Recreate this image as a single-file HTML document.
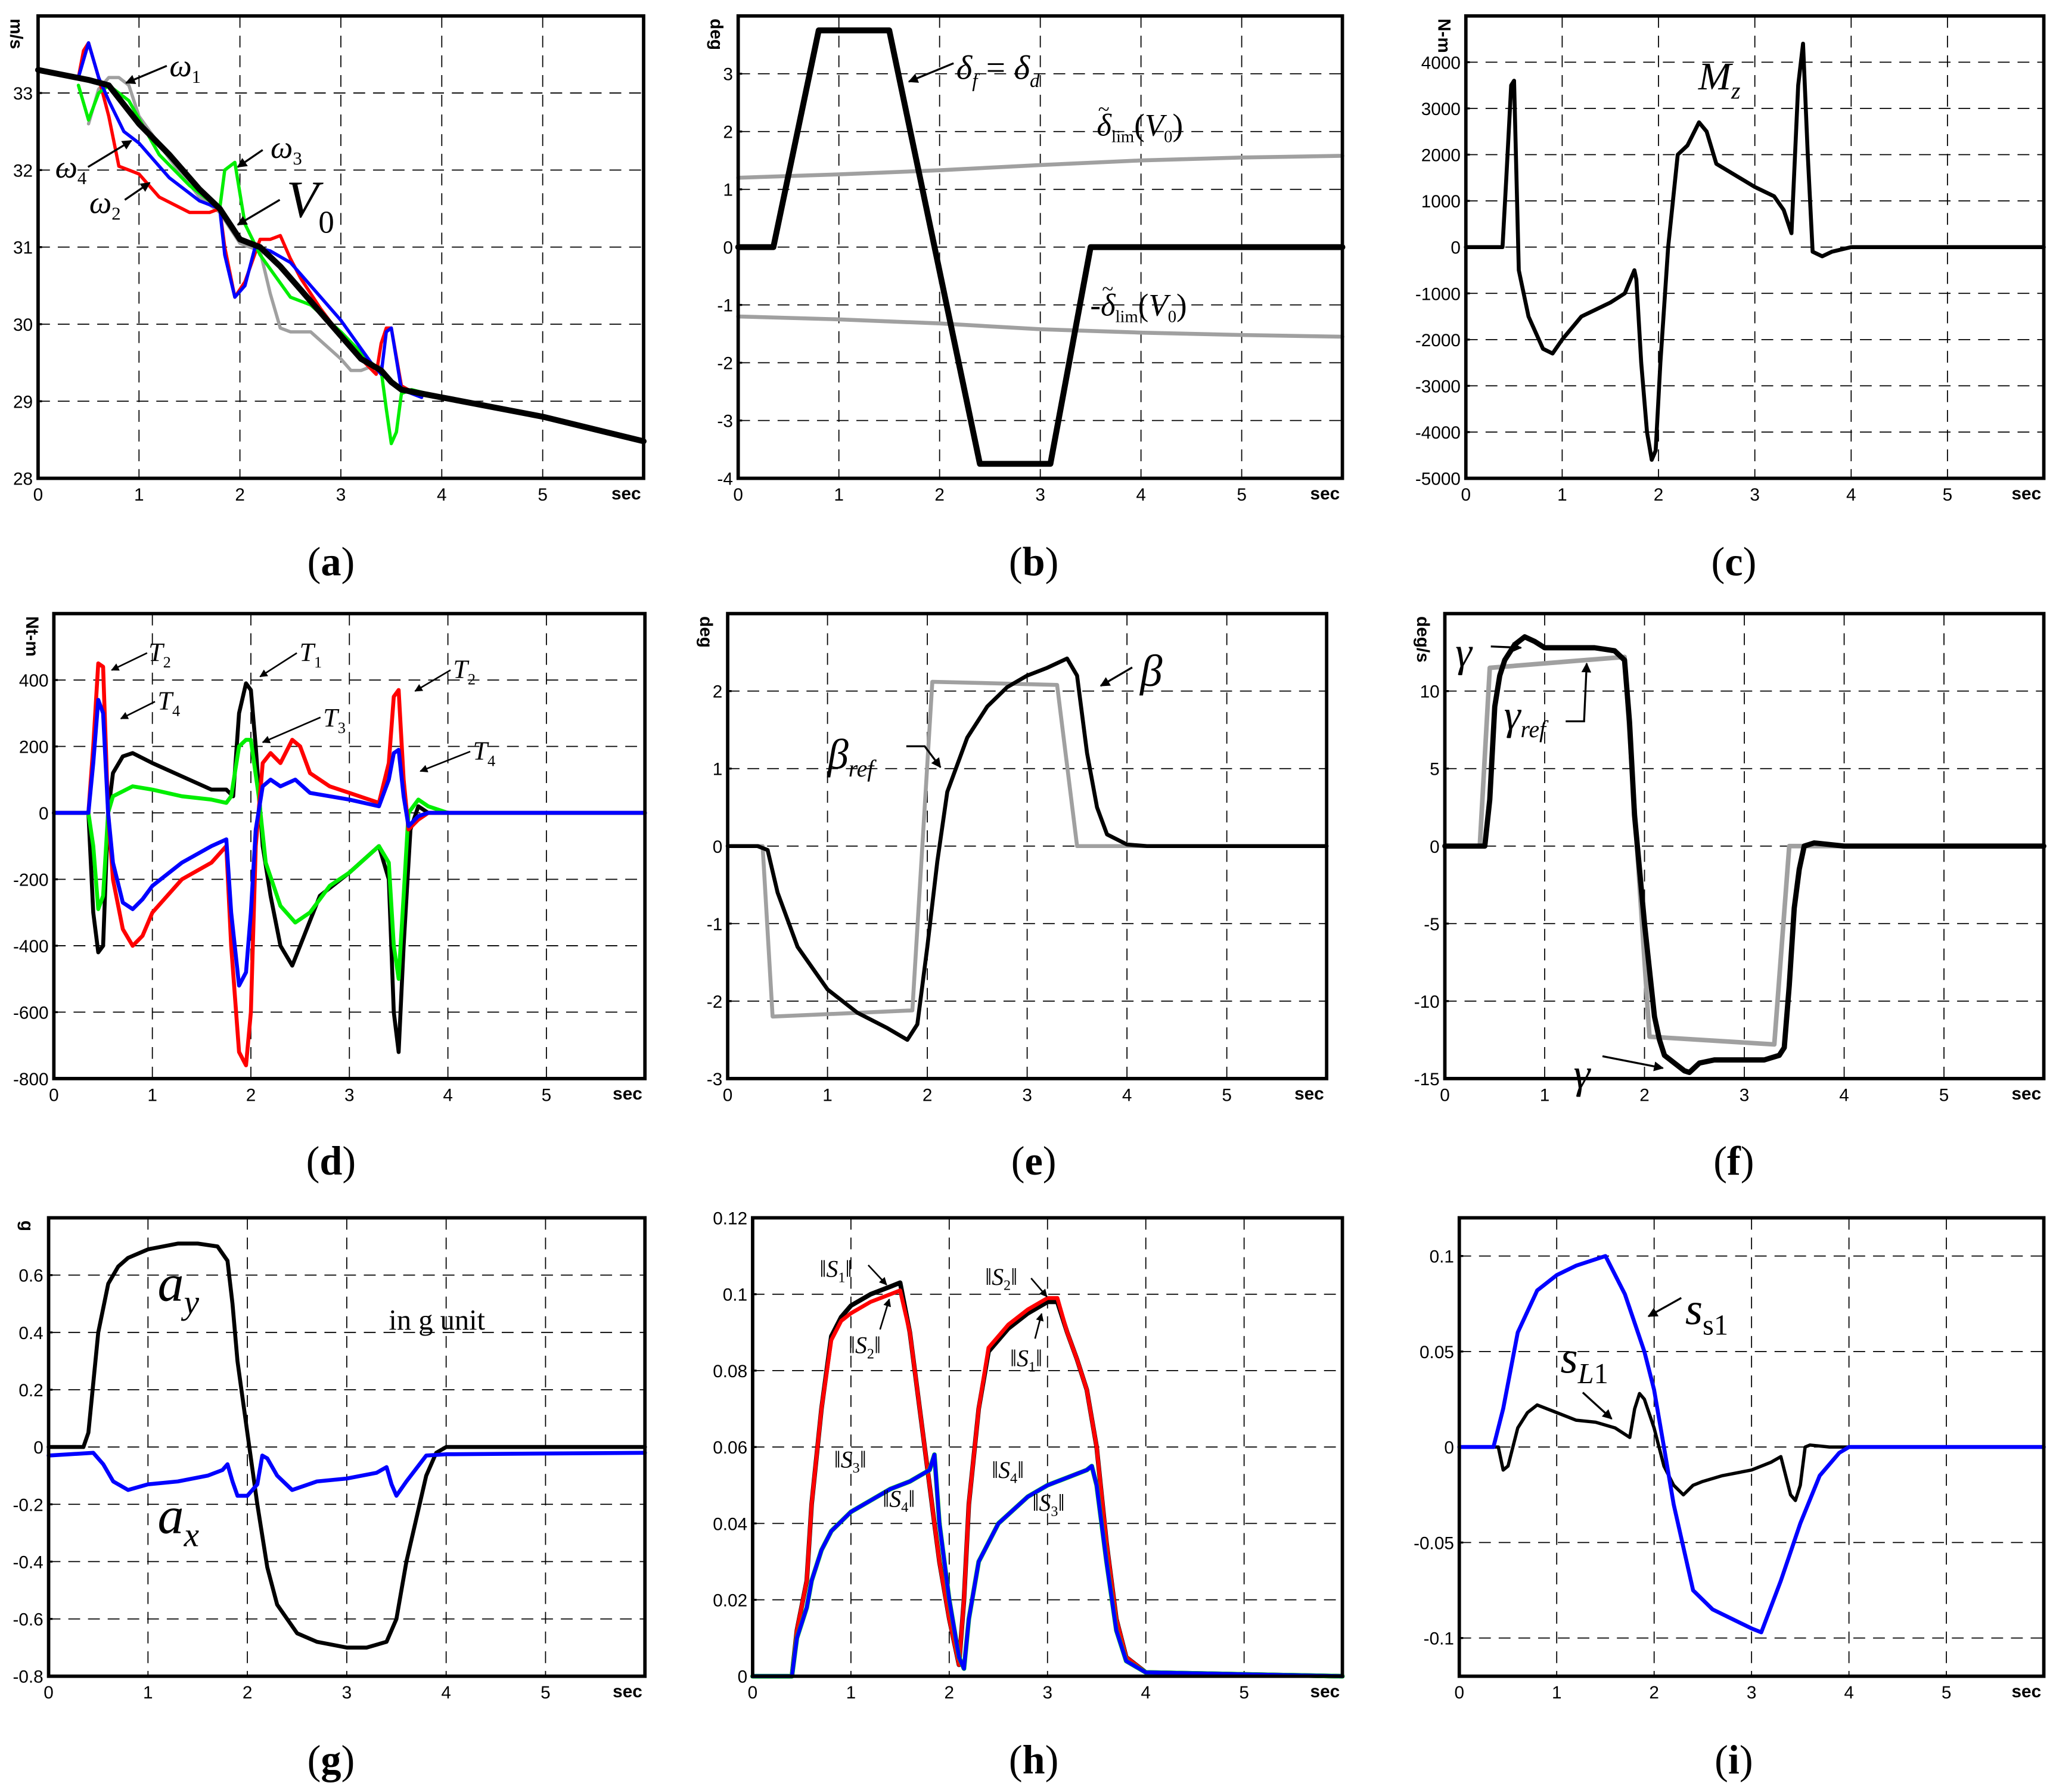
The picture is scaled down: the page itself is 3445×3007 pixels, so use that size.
<!DOCTYPE html>
<html><head><meta charset="utf-8"><style>
html,body{margin:0;padding:0;background:#fff;}
svg{display:block;}
.tk{font-family:"Liberation Sans",sans-serif;font-size:13.5px;fill:#000;}
.lab{font-family:"Liberation Serif",serif;font-style:italic;fill:#000;}
.pl{font-family:"Liberation Serif",serif;font-size:31px;fill:#000;}
</style></head><body>
<svg id="fig" width="3445" height="3007" viewBox="0 0 1563 1364" xmlns="http://www.w3.org/2000/svg">
<defs><marker id="ar" viewBox="0 0 10 10" refX="9" refY="5" markerWidth="5" markerHeight="5" orient="auto"><path d="M0,0 L10,5 L0,10 z" fill="#000"/></marker></defs>
<g id="plots"></g>
<g id="ann">
<!-- panel a -->
<text class="lab" x="129" y="58" font-size="24">ω<tspan font-size="14" dy="5" font-style="normal">1</tspan></text>
<line x1="127" y1="50" x2="96" y2="63" stroke="#000" stroke-width="1.5" marker-end="url(#ar)"/>
<text class="lab" x="206" y="120" font-size="24">ω<tspan font-size="14" dy="5" font-style="normal">3</tspan></text>
<line x1="200" y1="114" x2="181" y2="127" stroke="#000" stroke-width="1.5" marker-end="url(#ar)"/>
<text class="lab" x="42" y="135" font-size="24">ω<tspan font-size="14" dy="5" font-style="normal">4</tspan></text>
<line x1="67" y1="127" x2="100" y2="107" stroke="#000" stroke-width="1.5" marker-end="url(#ar)"/>
<text class="lab" x="68" y="162" font-size="24">ω<tspan font-size="14" dy="5" font-style="normal">2</tspan></text>
<line x1="95" y1="152" x2="114" y2="139" stroke="#000" stroke-width="1.5" marker-end="url(#ar)"/>
<text class="lab" x="218" y="165" font-size="40">V<tspan font-size="24" dy="12" font-style="normal">0</tspan></text>
<line x1="213" y1="152" x2="181" y2="171" stroke="#000" stroke-width="1.5" marker-end="url(#ar)"/>
<!-- panel b -->
<text class="lab" x="728" y="60" font-size="26">δ<tspan font-size="15" dy="6">f</tspan><tspan dy="-6" font-style="normal"> = </tspan>δ<tspan font-size="15" dy="6">d</tspan></text>
<line x1="726" y1="48" x2="692" y2="62" stroke="#000" stroke-width="1.5" marker-end="url(#ar)"/>
<text class="lab" x="835" y="103" font-size="24">δ<tspan font-size="13" dy="5" font-style="normal">lim</tspan><tspan dy="-5" font-style="normal">(</tspan>V<tspan font-size="13" dy="5" font-style="normal">0</tspan><tspan dy="-5" font-style="normal">)</tspan></text>
<text x="836" y="88" font-family="Liberation Serif,serif" font-size="16">~</text>
<text class="lab" x="830" y="240" font-size="24">-δ<tspan font-size="13" dy="5" font-style="normal">lim</tspan><tspan dy="-5" font-style="normal">(</tspan>V<tspan font-size="13" dy="5" font-style="normal">0</tspan><tspan dy="-5" font-style="normal">)</tspan></text>
<text x="839" y="225" font-family="Liberation Serif,serif" font-size="16">~</text>
<!-- panel c -->
<text class="lab" x="1293" y="68" font-size="30">M<tspan font-size="18" dy="7">z</tspan></text>
<!-- panel d -->
<text class="lab" x="113" y="503" font-size="20">T<tspan font-size="12" dy="5" font-style="normal">2</tspan></text>
<line x1="112" y1="497" x2="85" y2="510" stroke="#000" stroke-width="1.2" marker-end="url(#ar)"/>
<text class="lab" x="120" y="540" font-size="20">T<tspan font-size="12" dy="5" font-style="normal">4</tspan></text>
<line x1="118" y1="534" x2="92" y2="547" stroke="#000" stroke-width="1.2" marker-end="url(#ar)"/>
<text class="lab" x="228" y="503" font-size="20">T<tspan font-size="12" dy="5" font-style="normal">1</tspan></text>
<line x1="226" y1="497" x2="198" y2="515" stroke="#000" stroke-width="1.2" marker-end="url(#ar)"/>
<text class="lab" x="246" y="553" font-size="20">T<tspan font-size="12" dy="5" font-style="normal">3</tspan></text>
<line x1="244" y1="546" x2="200" y2="565" stroke="#000" stroke-width="1.2" marker-end="url(#ar)"/>
<text class="lab" x="345" y="516" font-size="20">T<tspan font-size="12" dy="5" font-style="normal">2</tspan></text>
<line x1="343" y1="510" x2="316" y2="526" stroke="#000" stroke-width="1.2" marker-end="url(#ar)"/>
<text class="lab" x="360" y="578" font-size="20">T<tspan font-size="12" dy="5" font-style="normal">4</tspan></text>
<line x1="358" y1="572" x2="320" y2="587" stroke="#000" stroke-width="1.2" marker-end="url(#ar)"/>
<!-- panel e -->
<text class="lab" x="868" y="522" font-size="34">β</text>
<line x1="862" y1="508" x2="838" y2="522" stroke="#000" stroke-width="1.5" marker-end="url(#ar)"/>
<text class="lab" x="630" y="585" font-size="32">β<tspan font-size="18" dy="6">ref</tspan></text>
<polyline points="690,568 704,568 716,584" fill="none" stroke="#000" stroke-width="1.5" marker-end="url(#ar)"/>
<!-- panel f -->
<text class="lab" x="1108" y="507" font-size="32">γ</text>
<line x1="1135" y1="492" x2="1158" y2="493" stroke="#000" stroke-width="1.5" marker-end="url(#ar)"/>
<text class="lab" x="1145" y="555" font-size="32">γ<tspan font-size="18" dy="6">ref</tspan></text>
<polyline points="1192,549 1206,549 1208,505" fill="none" stroke="#000" stroke-width="1.5" marker-end="url(#ar)"/>
<text class="lab" x="1198" y="828" font-size="32">γ</text>
<line x1="1220" y1="804" x2="1266" y2="813" stroke="#000" stroke-width="1.5" marker-end="url(#ar)"/>
<!-- panel g -->
<text class="lab" x="120" y="990" font-size="40">a<tspan font-size="26" dy="10">y</tspan></text>
<text class="lab" x="120" y="1167" font-size="40">a<tspan font-size="26" dy="10">x</tspan></text>
<text x="296" y="1012" font-family="Liberation Serif,serif" font-size="22">in g unit</text>
<!-- panel h -->
<text class="lab" x="624" y="972" font-size="18">‖S<tspan font-size="11" dy="4" font-style="normal">1</tspan><tspan dy="-4">‖</tspan></text>
<line x1="661" y1="963" x2="675" y2="978" stroke="#000" stroke-width="1.2" marker-end="url(#ar)"/>
<text class="lab" x="646" y="1030" font-size="18">‖S<tspan font-size="11" dy="4" font-style="normal">2</tspan><tspan dy="-4">‖</tspan></text>
<line x1="670" y1="1012" x2="677" y2="989" stroke="#000" stroke-width="1.2" marker-end="url(#ar)"/>
<text class="lab" x="750" y="978" font-size="18">‖S<tspan font-size="11" dy="4" font-style="normal">2</tspan><tspan dy="-4">‖</tspan></text>
<line x1="785" y1="973" x2="797" y2="987" stroke="#000" stroke-width="1.2" marker-end="url(#ar)"/>
<text class="lab" x="769" y="1040" font-size="18">‖S<tspan font-size="11" dy="4" font-style="normal">1</tspan><tspan dy="-4">‖</tspan></text>
<line x1="788" y1="1019" x2="793" y2="1000" stroke="#000" stroke-width="1.2" marker-end="url(#ar)"/>
<text class="lab" x="635" y="1117" font-size="18">‖S<tspan font-size="11" dy="4" font-style="normal">3</tspan><tspan dy="-4">‖</tspan></text>
<text class="lab" x="672" y="1147" font-size="18">‖S<tspan font-size="11" dy="4" font-style="normal">4</tspan><tspan dy="-4">‖</tspan></text>
<text class="lab" x="755" y="1125" font-size="18">‖S<tspan font-size="11" dy="4" font-style="normal">4</tspan><tspan dy="-4">‖</tspan></text>
<text class="lab" x="786" y="1150" font-size="18">‖S<tspan font-size="11" dy="4" font-style="normal">3</tspan><tspan dy="-4">‖</tspan></text>
<!-- panel i -->
<text class="lab" x="1283" y="1008" font-size="34">s<tspan font-size="22" dy="8" font-style="normal">s1</tspan></text>
<line x1="1280" y1="988" x2="1255" y2="1002" stroke="#000" stroke-width="1.5" marker-end="url(#ar)"/>
<text class="lab" x="1188" y="1045" font-size="34">s<tspan font-size="22" dy="8">L</tspan><tspan font-size="22" font-style="normal">1</tspan></text>
<line x1="1205" y1="1060" x2="1227" y2="1080" stroke="#000" stroke-width="1.5" marker-end="url(#ar)"/>
</g>
</svg>
<script>
// ---- data ----
const aT_V0=[0,0.5,0.7,1,1.3,1.6,1.8,1.9,2.0,2.1,2.2,2.4,2.6,2.8,3.0,3.2,3.4,3.5,3.6,4,5,6];
const aV_V0=[33.3,33.17,33.1,32.6,32.2,31.75,31.5,31.3,31.1,31.05,31.0,30.75,30.45,30.15,29.85,29.55,29.4,29.25,29.15,29.05,28.8,28.48];
const aT_w3=[0.4,0.5,0.6,0.7,0.9,1.2,1.5,1.8,1.85,1.95,2.05,2.2,2.5,2.7,3.0,3.3,3.4,3.45,3.5,3.55,3.6,3.7,4.0];
const aV_w3=[33.1,32.65,33.0,33.1,32.9,32.2,31.8,31.5,32.0,32.1,31.3,30.9,30.35,30.25,29.9,29.5,29.4,28.9,28.45,28.6,29.1,29.15,29.05];
const aT_w2=[0.4,0.45,0.5,0.6,0.7,0.8,0.9,1.0,1.2,1.5,1.7,1.8,1.85,1.95,2.05,2.2,2.3,2.4,2.5,2.6,2.8,3.0,3.2,3.35,3.4,3.45,3.5,3.6,3.8];
const aV_w2=[33.2,33.55,33.65,33.2,32.7,32.05,32.0,31.95,31.65,31.45,31.45,31.5,31.0,30.35,30.55,31.1,31.1,31.15,30.85,30.6,30.2,29.85,29.55,29.35,29.75,29.95,29.95,29.2,29.05];
const aT_w4=[0.4,0.5,0.6,0.7,0.85,1.0,1.3,1.6,1.8,1.85,1.95,2.05,2.15,2.3,2.5,2.7,3.0,3.3,3.4,3.45,3.5,3.6,3.8];
const aV_w4=[33.2,33.65,33.2,32.9,32.5,32.35,31.9,31.6,31.5,30.9,30.35,30.5,31.0,30.95,30.8,30.5,30.05,29.5,29.35,29.9,29.95,29.15,29.05];
const aT_w1=[0.5,0.6,0.7,0.8,0.9,1.0,1.3,1.6,1.8,2.0,2.2,2.3,2.4,2.5,2.7,3.0,3.1,3.2,3.3,3.4];
const aV_w1=[32.6,33.05,33.2,33.2,33.1,32.7,32.15,31.65,31.45,31.05,30.95,30.4,29.95,29.9,29.9,29.55,29.4,29.4,29.45,29.45];

const bT_df=[0,0.35,0.8,1.5,2.4,3.1,3.5,6];
const bV_df=[0,0,3.75,3.75,-3.75,-3.75,0,0];
const bT_lim=[0,1,2,3,4,5,6];
const bV_lim=[1.2,1.26,1.33,1.42,1.5,1.55,1.58];
const bV_nlim=[-1.2,-1.25,-1.32,-1.42,-1.48,-1.52,-1.55];

const cT_mz=[0,0.38,0.42,0.47,0.5,0.55,0.65,0.8,0.9,1.0,1.2,1.5,1.65,1.75,1.77,1.82,1.88,1.93,1.97,2.02,2.1,2.2,2.3,2.42,2.5,2.6,3.0,3.2,3.3,3.38,3.45,3.5,3.55,3.6,3.7,3.8,4.0,6];
const cV_mz=[0,0,1500,3500,3600,-500,-1500,-2200,-2300,-2000,-1500,-1200,-1000,-500,-700,-2500,-4000,-4600,-4400,-2500,0,2000,2200,2700,2500,1800,1300,1100,800,300,3500,4400,2000,-100,-200,-100,0,0];

const dT_t1=[0,0.35,0.4,0.45,0.5,0.55,0.6,0.7,0.8,1.0,1.3,1.6,1.75,1.82,1.88,1.95,2.0,2.05,2.12,2.2,2.3,2.42,2.5,2.7,3.0,3.3,3.4,3.45,3.5,3.55,3.62,3.7,3.8,4,6];
const dV_t1=[0,0,-300,-420,-400,0,120,170,180,150,110,70,70,50,300,390,370,200,-100,-250,-400,-460,-400,-250,-180,-100,-200,-600,-720,-400,-50,20,0,0,0];
const dT_t2=[0,0.35,0.4,0.45,0.5,0.55,0.6,0.7,0.8,0.9,1.0,1.3,1.6,1.75,1.8,1.88,1.95,2.0,2.05,2.12,2.2,2.3,2.42,2.5,2.6,2.8,3.0,3.3,3.4,3.45,3.5,3.55,3.6,3.7,3.8,6];
const dV_t2=[0,0,200,450,440,0,-200,-350,-400,-370,-300,-200,-150,-100,-400,-720,-760,-600,-100,150,180,150,220,200,120,80,60,30,150,350,370,100,-50,-20,0,0];
const dT_t3=[0,0.35,0.4,0.45,0.5,0.55,0.6,0.8,1.0,1.3,1.6,1.75,1.8,1.88,1.95,2.0,2.08,2.15,2.3,2.45,2.6,2.8,3.0,3.3,3.4,3.45,3.5,3.55,3.6,3.7,3.8,4,6];
const dV_t3=[0,0,-100,-290,-250,0,50,80,70,50,40,30,50,200,220,220,50,-150,-280,-330,-300,-220,-180,-100,-150,-400,-500,-250,0,40,20,0,0];
const dT_t4=[0,0.35,0.4,0.45,0.5,0.55,0.6,0.7,0.8,0.9,1.0,1.3,1.6,1.75,1.8,1.88,1.95,2.0,2.05,2.12,2.2,2.3,2.45,2.6,3.0,3.3,3.4,3.45,3.5,3.55,3.6,3.7,3.8,6];
const dV_t4=[0,0,150,340,300,0,-150,-270,-290,-260,-220,-150,-100,-80,-300,-520,-480,-300,-50,80,100,80,100,60,40,20,100,180,190,50,-40,-10,0,0];

const eT_beta=[0,0.3,0.4,0.5,0.7,1.0,1.3,1.6,1.8,1.9,2.0,2.1,2.2,2.4,2.6,2.8,3.0,3.2,3.4,3.5,3.6,3.7,3.8,4.0,4.2,6];
const eV_beta=[0,0,-0.05,-0.6,-1.3,-1.85,-2.15,-2.35,-2.5,-2.3,-1.3,-0.2,0.7,1.4,1.8,2.05,2.2,2.3,2.42,2.2,1.2,0.5,0.15,0.02,0,0];
const eT_ref=[0,0.35,0.45,1.85,2.05,3.3,3.5,6];
const eV_ref=[0,0,-2.2,-2.12,2.12,2.08,0,0];

const fT_g=[0,0.4,0.45,0.5,0.55,0.6,0.7,0.8,0.9,1.0,1.5,1.7,1.8,1.85,1.9,2.0,2.1,2.15,2.2,2.3,2.4,2.45,2.55,2.7,3.0,3.2,3.35,3.4,3.45,3.5,3.55,3.6,3.7,4,6];
const fV_g=[0,0,3,9,11,12,13,13.5,13.2,12.8,12.8,12.6,12,8,2,-5,-11,-12.5,-13.5,-14,-14.5,-14.6,-14,-13.8,-13.8,-13.8,-13.5,-13,-9,-4,-1.5,0,0.2,0,0];
const fT_ref=[0,0.35,0.45,1.8,2.05,3.3,3.45,6];
const fV_ref=[0,0,11.5,12.2,-12.3,-12.8,0,0];

const gT_ay=[0,0.35,0.4,0.5,0.6,0.7,0.8,1.0,1.3,1.5,1.7,1.8,1.85,1.9,2.0,2.1,2.2,2.3,2.5,2.7,3.0,3.2,3.4,3.5,3.6,3.8,3.9,4.0,4.5,6];
const gV_ay=[0,0,0.05,0.4,0.57,0.63,0.66,0.69,0.71,0.71,0.7,0.65,0.5,0.3,0.05,-0.2,-0.42,-0.55,-0.65,-0.68,-0.7,-0.7,-0.68,-0.6,-0.4,-0.1,-0.02,0,0,0];
const gT_ax=[0,0.45,0.55,0.65,0.8,1.0,1.3,1.6,1.75,1.8,1.85,1.9,2.0,2.1,2.15,2.2,2.3,2.45,2.7,3.0,3.3,3.4,3.45,3.5,3.6,3.8,4,6];
const gV_ax=[-0.03,-0.02,-0.06,-0.12,-0.15,-0.13,-0.12,-0.1,-0.08,-0.06,-0.12,-0.17,-0.17,-0.13,-0.03,-0.04,-0.1,-0.15,-0.12,-0.11,-0.09,-0.07,-0.13,-0.17,-0.12,-0.03,-0.025,-0.02];

const hT_s12=[0,0.4,0.45,0.55,0.6,0.7,0.8,0.9,1.0,1.2,1.4,1.5,1.6,1.7,1.8,1.85,1.9,2.0,2.1,2.15,2.2,2.3,2.4,2.6,2.8,3.0,3.1,3.2,3.3,3.4,3.5,3.6,3.7,3.8,4.0,6];
const hV_s1=[0,0,0.012,0.025,0.045,0.07,0.089,0.094,0.097,0.1,0.102,0.103,0.09,0.07,0.05,0.04,0.03,0.015,0.003,0.02,0.045,0.07,0.085,0.091,0.095,0.098,0.098,0.09,0.083,0.075,0.06,0.035,0.015,0.005,0.001,0];
const hV_s2=[0,0,0.012,0.025,0.045,0.07,0.088,0.093,0.095,0.098,0.1,0.101,0.09,0.07,0.05,0.04,0.03,0.015,0.003,0.02,0.045,0.07,0.086,0.092,0.096,0.099,0.099,0.09,0.083,0.075,0.06,0.035,0.015,0.005,0.001,0];
const hT_s34=[0,0.4,0.45,0.55,0.6,0.7,0.8,1.0,1.2,1.4,1.6,1.8,1.85,1.9,2.0,2.1,2.15,2.2,2.3,2.5,2.8,3.0,3.2,3.4,3.45,3.5,3.6,3.7,3.8,4.0,6];
const hV_s34=[0,0,0.01,0.018,0.025,0.033,0.038,0.043,0.046,0.049,0.051,0.054,0.058,0.04,0.02,0.005,0.002,0.015,0.03,0.04,0.047,0.05,0.052,0.054,0.055,0.05,0.03,0.012,0.004,0.001,0];

const iT_ss=[0,0.35,0.45,0.6,0.8,1.0,1.2,1.5,1.7,1.9,2.0,2.1,2.2,2.4,2.6,2.8,3.0,3.1,3.3,3.5,3.7,3.9,4.0,6];
const iV_ss=[0,0,0.02,0.06,0.082,0.09,0.095,0.1,0.08,0.05,0.03,0,-0.03,-0.075,-0.085,-0.09,-0.095,-0.097,-0.07,-0.04,-0.015,-0.003,0,0];
const iT_sl=[0,0.4,0.45,0.5,0.55,0.6,0.7,0.8,1.0,1.2,1.4,1.6,1.75,1.8,1.85,1.9,2.0,2.1,2.2,2.3,2.4,2.5,2.7,3.0,3.2,3.3,3.4,3.45,3.5,3.55,3.6,3.8,6];
const iV_sl=[0,0,-0.012,-0.01,0,0.01,0.018,0.022,0.018,0.014,0.013,0.01,0.005,0.02,0.028,0.025,0.01,-0.01,-0.02,-0.025,-0.02,-0.018,-0.015,-0.012,-0.008,-0.005,-0.025,-0.028,-0.02,0,0.001,0,0];

const xTicks=[0,1,2,3,4,5];
const aTicks=[28,29,30,31,32,33];
const bTicks=[-4,-3,-2,-1,0,1,2,3];
const cTicks=[-5000,-4000,-3000,-2000,-1000,0,1000,2000,3000,4000];
const dTicks=[-800,-600,-400,-200,0,200,400];
const eTicks=[-3,-2,-1,0,1,2];
const fTicks=[-15,-10,-5,0,5,10];
const gTicks=[-0.8,-0.6,-0.4,-0.2,0,0.2,0.4,0.6];
const hTicks=[0,0.02,0.04,0.06,0.08,0.1,0.12];
const iTicks=[-0.1,-0.05,0,0.05,0.1];

const NS="http://www.w3.org/2000/svg";
const root=document.getElementById('plots');
function mk(tag,attrs,parent){const e=document.createElementNS(NS,tag);for(const k in attrs)e.setAttribute(k,attrs[k]);parent.appendChild(e);return e;}

function panel(id,box,ymin,ymax,yt,unit,series,letter,lx,ly){
  const g=mk('g',{},root);
  
  
  const X=t=>box[0]+(t/6)*(box[1]-box[0]);
  const Y=v=>box[3]-(v-ymin)/(ymax-ymin)*(box[3]-box[2]);
  const grid=mk('g',{stroke:'#000','stroke-width':0.8,'stroke-dasharray':'9,6'},g);
  
  
  xTicks.forEach(t=>{if(t>0)mk('line',{x1:X(t),x2:X(t),y1:box[2],y2:box[3]},grid);});
  yt.forEach(v=>{const y=Y(v);if(y>box[2]+2&&y<box[3]-2)mk('line',{x1:box[0],x2:box[1],y1:y,y2:y},grid);});
  const xl=mk('g',{},g);
  
  
  xTicks.forEach(t=>{const tx=mk('text',{x:X(t),y:box[3]+17,'text-anchor':'middle',class:'tk'},xl);tx.textContent=t;});
  const sx=mk('text',{x:box[1]-2,y:box[3]+16,'text-anchor':'end',class:'tk','font-size':11,'font-weight':'bold'},xl);sx.textContent='sec';
  const yl=mk('g',{},g);
  
  
  yt.forEach(v=>{const tx=mk('text',{x:box[0]-4,y:Y(v)+5,'text-anchor':'end',class:'tk'},yl);tx.textContent=v;
    mk('line',{x1:box[0],x2:box[0]+3,y1:Y(v),y2:Y(v),stroke:'#000','stroke-width':1.5},yl);});
  if(unit){const u=mk('text',{x:0,y:0,class:'tk','font-size':10,'font-weight':'bold',transform:'translate('+(box[0]-21)+','+(box[2]+2)+') rotate(90)'},yl);u.textContent=unit;
    
    }
  series.forEach(s=>{
    const pts=s.t.map((t,i)=>X(t).toFixed(1)+','+Y(s.v[i]).toFixed(1)).join(' ');
    const p=mk('polyline',{points:pts,fill:'none',stroke:s.c,'stroke-width':s.w,'stroke-linejoin':'round','stroke-linecap':'round'},g);
    
    
  });
  const r=mk('rect',{x:box[0],y:box[2],width:box[1]-box[0],height:box[3]-box[2],fill:'none',stroke:'#000','stroke-width':2.6},g);
  
  
  const pl=mk('text',{x:lx,y:ly,'text-anchor':'middle',class:'pl'},g);
  
  
  pl.innerHTML='(<tspan font-weight="bold">'+letter+'</tspan>)';
}
const R1=[12,364],R2=[467,821],R3=[927,1276];
panel('a',[29,490,R1[0],R1[1]],28,34,aTicks,'m/s',[
 {t:aT_w1,v:aV_w1,c:'#a0a0a0',w:2.5,n:'line-omega1'},
 {t:aT_w2,v:aV_w2,c:'#ff0000',w:2.5,n:'line-omega2'},
 {t:aT_w3,v:aV_w3,c:'#00ee00',w:2.5,n:'line-omega3'},
 {t:aT_w4,v:aV_w4,c:'#0000ff',w:2.5,n:'line-omega4'},
 {t:aT_V0,v:aV_V0,c:'#000',w:4.5,n:'line-v0'}],'a',252,438);
panel('b',[562,1022,R1[0],R1[1]],-4,4,bTicks,'deg',[
 {t:bT_lim,v:bV_lim,c:'#a0a0a0',w:3,n:'line-delta-lim'},
 {t:bT_lim,v:bV_nlim,c:'#a0a0a0',w:3,n:'line-neg-delta-lim'},
 {t:bT_df,v:bV_df,c:'#000',w:4.5,n:'line-delta-f'}],'b',787,438);
panel('c',[1116,1556,R1[0],R1[1]],-5000,5000,cTicks,'N-m',[
 {t:cT_mz,v:cV_mz,c:'#000',w:3,n:'line-mz'}],'c',1320,438);
panel('d',[41,491,R2[0],R2[1]],-800,600,dTicks,'Nt-m',[
 {t:dT_t1,v:dV_t1,c:'#000',w:3,n:'line-t1'},
 {t:dT_t3,v:dV_t3,c:'#00ee00',w:3,n:'line-t3'},
 {t:dT_t2,v:dV_t2,c:'#ff0000',w:3,n:'line-t2'},
 {t:dT_t4,v:dV_t4,c:'#0000ff',w:3,n:'line-t4'}],'d',252,894);
panel('e',[554,1010,R2[0],R2[1]],-3,3,eTicks,'deg',[
 {t:eT_ref,v:eV_ref,c:'#a0a0a0',w:3,n:'line-beta-ref'},
 {t:eT_beta,v:eV_beta,c:'#000',w:3,n:'line-beta'}],'e',787,894);
panel('f',[1100,1556,R2[0],R2[1]],-15,15,fTicks,'deg/s',[
 {t:fT_ref,v:fV_ref,c:'#a0a0a0',w:3.5,n:'line-gamma-ref'},
 {t:fT_g,v:fV_g,c:'#000',w:4,n:'line-gamma'}],'f',1320,894);
panel('g',[37,491,R3[0],R3[1]],-0.8,0.8,gTicks,'g',[
 {t:gT_ay,v:gV_ay,c:'#000',w:3,n:'line-ay'},
 {t:gT_ax,v:gV_ax,c:'#0000ff',w:3,n:'line-ax'}],'g',252,1350);
panel('h',[573,1022,R3[0],R3[1]],0,0.12,hTicks,'',[
 {t:hT_s12,v:hV_s1,c:'#000',w:3.5,n:'line-s1'},
 {t:hT_s12,v:hV_s2,c:'#ff0000',w:3,n:'line-s2'},
 {t:hT_s34,v:hV_s34,c:'#00ee00',w:3.5,n:'line-s4'},
 {t:hT_s34,v:hV_s34,c:'#0000ff',w:3,n:'line-s3'}],'h',787,1350);
panel('i',[1111,1556,R3[0],R3[1]],-0.12,0.12,iTicks,'',[
 {t:iT_sl,v:iV_sl,c:'#000',w:2.5,n:'line-sl1'},
 {t:iT_ss,v:iV_ss,c:'#0000ff',w:3,n:'line-ss1'}],'i',1320,1350);
</script>
</body></html>
